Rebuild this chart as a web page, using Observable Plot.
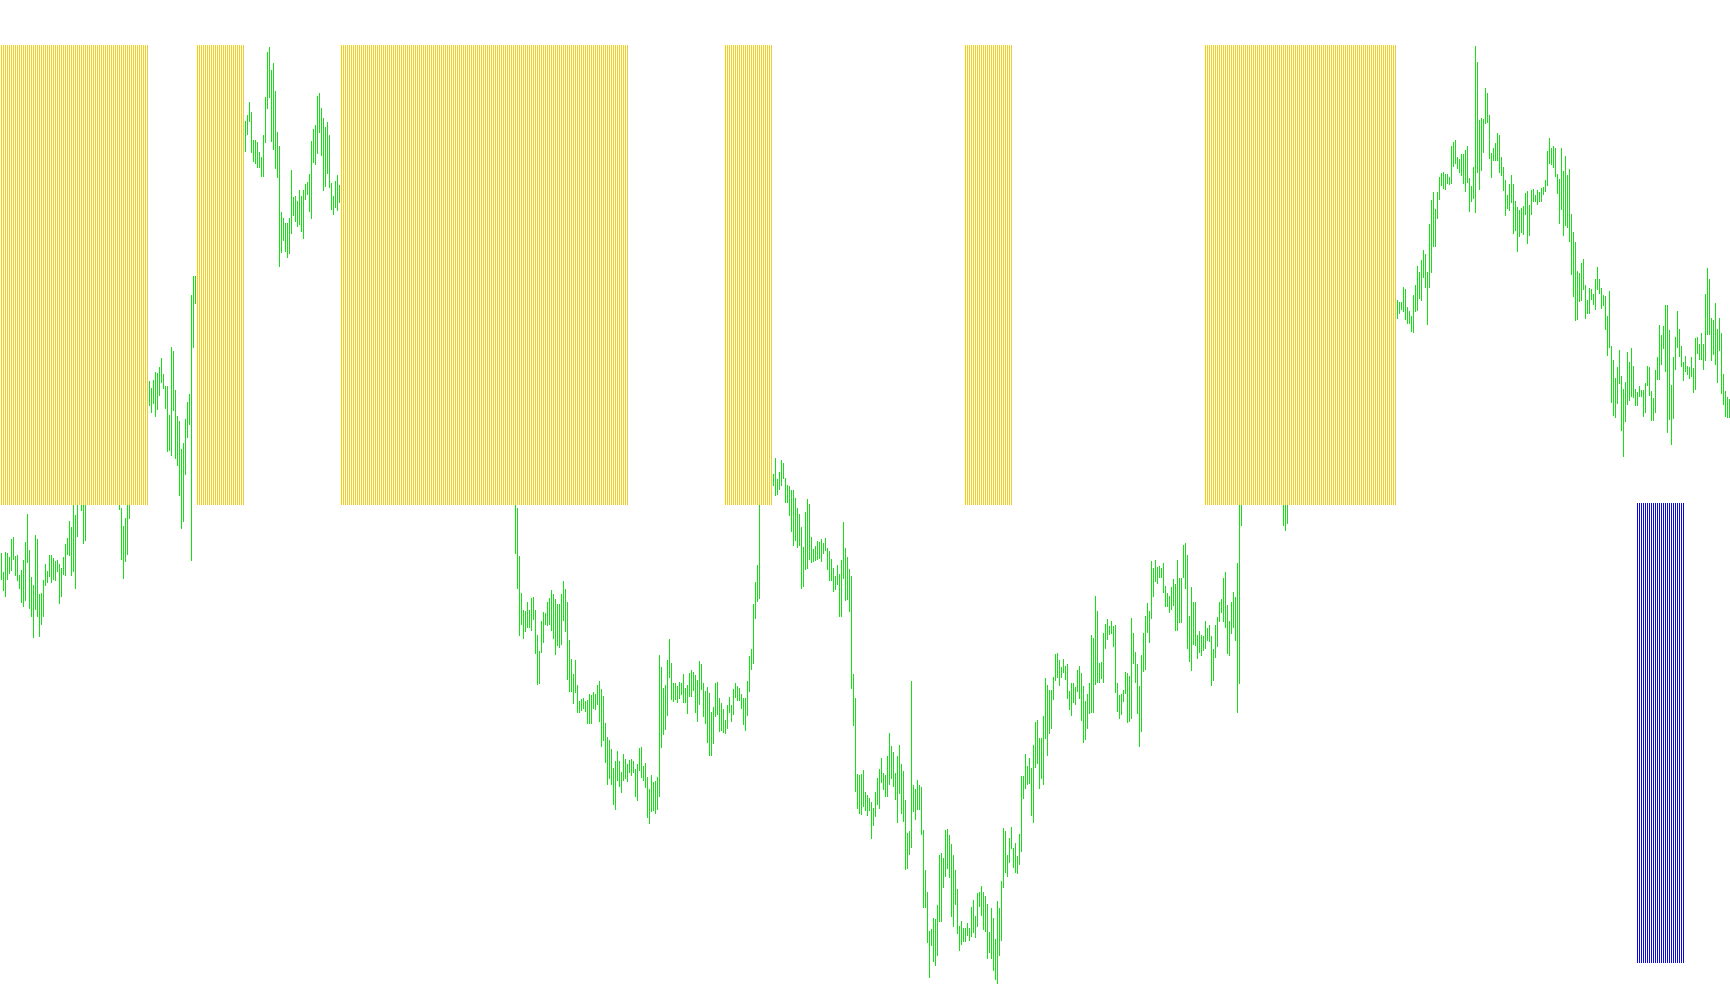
<!DOCTYPE html>
<html><head><meta charset="utf-8">
<script src="https://cdn.jsdelivr.net/npm/d3@7"></script>
<script src="https://cdn.jsdelivr.net/npm/@observablehq/plot@0.6"></script>
<style>html,body{margin:0;padding:0;background:#fff;overflow:hidden}svg{display:block;max-width:none!important;width:1730px!important;height:1005px!important}</style>
</head><body><div id="chart"></div>
<script>
// Each run: [top, bottom] readings of successive range bars, starting at a bar number.
const runA=[[553,579],[572,590],[552,596],[553,579],[557,573],[539,570],[537,559],[556,575],[555,580],[575,588],[570,602],[560,606],[542,600],[514,562],[550,608],[577,616],[585,637],[535,609],[539,616],[594,636],[593,624],[580,616],[564,585],[571,582],[555,576],[555,582],[558,579],[561,580],[560,571],[564,603],[568,596],[557,574],[544,575],[538,554],[521,555],[527,575],[500,571],[515,588],[500,536]];
const runB=[[500,510],[500,543],[500,540]];
const runC=[[500,509],[508,559],[526,578],[518,561],[500,554],[500,518]];
const runD=[[381,405],[388,412],[380,403],[372,416],[373,409],[367,395],[358,382],[374,388],[386,408],[386,451],[415,450],[347,455],[351,410],[390,458],[416,465],[421,495],[449,528],[443,521],[419,474],[402,437],[394,424],[295,560],[276,347],[276,303]];
const runE=[[121,151],[115,134],[102,121],[112,152],[140,161],[140,163],[142,167],[152,167],[157,176],[135,176],[97,142],[52,108],[47,97],[70,141],[63,149],[91,168],[132,177],[146,266],[212,252],[218,240],[223,251],[223,257],[218,253],[170,233],[197,215],[196,221],[201,226],[190,224],[196,231],[190,238],[184,199],[182,194],[174,211],[141,218],[129,162],[125,164],[96,153],[93,132],[108,155],[118,190],[127,186],[122,173],[135,187],[183,209],[196,214],[181,207],[175,210],[185,202]];
const runF=[[500,553],[508,588],[556,635],[593,624],[610,638],[611,631],[602,627],[610,627],[598,630],[597,619],[610,653],[635,684],[651,683],[621,652],[612,642],[613,624],[602,625],[598,624],[590,630],[594,638],[599,654],[604,645],[604,647],[594,644],[581,620],[589,631],[602,679],[640,691],[659,691],[674,703],[660,692],[685,712],[701,712],[699,710],[698,708],[701,711],[700,723],[694,723],[695,723],[692,708],[694,709],[685,704],[681,721],[689,746],[696,740],[723,762],[737,784],[740,778],[749,784],[768,804],[761,809],[751,780],[761,786],[772,792],[754,780],[759,778],[764,781],[760,772],[759,775],[761,772],[769,796],[764,800],[748,770],[747,777],[766,780],[763,787],[777,817],[789,823],[775,811],[782,810],[781,813],[777,809],[655,796],[667,747],[688,734],[685,729],[660,715],[639,677],[663,699],[683,701],[683,699],[686,702],[682,698],[683,694],[674,702],[688,702],[685,713],[673,696],[670,696],[672,690],[675,712],[680,721],[661,704],[664,689],[683,716],[691,723],[687,742],[693,755],[712,755],[707,743],[683,716],[682,714],[698,731],[703,730],[709,732],[720,733],[705,728],[697,712],[705,721],[689,714],[683,697],[686,700],[688,700],[694,708],[698,724],[698,730],[681,715],[656,691],[649,669],[604,663],[582,618],[565,601],[500,598]];
const runG=[[474,485],[458,495],[479,494],[472,489],[460,485],[463,478],[478,502],[485,502],[486,515],[490,531],[490,545],[498,540],[508,547],[514,545],[527,588],[547,586],[512,569],[499,568],[504,559],[537,562],[549,561],[546,560],[541,559],[542,558],[539,561],[543,553],[538,550],[548,569],[551,580],[559,580],[568,591],[576,589],[565,584],[574,616],[560,616],[522,578],[548,600],[557,599],[569,611],[576,688],[674,725],[698,791],[774,808],[775,813],[774,814],[770,806],[792,810],[795,815],[798,810],[802,838],[808,825],[792,816],[778,804],[769,808],[758,782],[773,789],[775,796],[756,796],[733,784],[746,778],[752,786],[773,799],[756,822],[745,793],[764,813],[771,821],[800,869],[833,868],[831,854],[681,847],[785,811],[789,819],[780,809],[785,809],[787,834],[830,907],[870,907],[892,942],[931,977],[929,945],[918,961],[919,965],[905,955],[855,921],[853,921],[858,887],[830,876],[829,868],[835,877],[844,916],[855,926],[870,904],[889,933],[926,950],[921,944],[928,941],[928,941],[923,935],[928,940],[907,936],[900,932],[916,937],[893,926],[892,906],[886,915],[892,929],[896,931],[904,958],[932,952],[908,958],[918,970],[939,979],[901,983],[908,955],[881,940],[828,887],[831,872],[855,876],[838,862],[827,848],[848,867],[843,872],[856,873],[834,864]];
const runH=[[776,851],[776,798],[754,788],[766,784],[758,783],[768,815],[745,822],[722,767],[720,763],[738,788],[738,778],[716,784],[678,738],[685,755],[690,733],[690,728],[677,699],[654,680],[653,677],[660,685],[667,677],[659,672],[666,679],[664,698],[691,709],[683,715],[683,702],[687,704],[670,691],[666,698],[673,720],[686,742],[701,739],[694,728],[683,713],[635,712],[638,712],[596,684],[611,682],[663,682],[662,678],[633,682],[624,648],[619,639],[626,634],[621,633],[626,646],[625,692],[683,711],[695,718],[694,714],[690,701],[672,693],[673,722],[676,721],[618,718],[633,663],[652,682],[664,713],[686,746],[655,731],[633,671],[616,669],[603,632],[611,642],[561,618],[568,596],[560,581],[567,583],[566,577],[568,577],[563,592],[586,606],[593,606],[596,612],[587,609],[579,605],[584,630],[560,630],[578,622],[578,622],[545,577],[543,588],[555,648],[616,661],[587,670],[602,644],[602,645],[635,658],[631,652],[635,655],[636,650],[621,648],[628,640],[625,641],[636,685],[649,680],[625,657],[617,646],[602,621],[599,612],[578,621],[572,627],[605,653],[621,655],[602,633],[592,627],[597,640],[563,712],[500,683],[500,525]];
const runI=[[500,525],[500,530],[500,523]];
const runJ=[[300,318],[302,313],[302,309],[287,311],[289,319],[307,323],[311,323],[316,331],[295,332],[285,311],[266,310],[272,298],[260,300],[250,277],[254,287],[272,324],[224,287],[200,272],[192,246],[209,246],[192,218],[177,199],[173,185],[172,188],[174,189],[174,183],[177,184],[146,183],[142,166],[140,163],[157,168],[159,172],[154,175],[154,183],[150,191],[146,182],[178,211],[186,201],[167,198],[46,212],[62,172],[120,189],[118,170],[119,152],[88,123],[93,122],[115,158],[153,177],[148,160],[143,160],[133,160],[135,172],[157,175],[167,190],[180,215],[195,208],[184,210],[175,202],[184,233],[201,230],[207,251],[210,236],[208,232],[206,234],[193,214],[191,243],[205,235],[190,214],[189,201],[195,201],[190,204],[192,201],[188,201],[187,194],[180,191],[151,185],[138,163],[148,164],[146,167],[148,176],[174,193],[179,223],[148,209],[171,235],[156,225],[175,227],[169,241],[214,274],[232,296],[242,320],[271,319],[273,301],[263,300],[259,289],[285,318],[300,313],[288,313],[289,299],[294,304],[279,309],[267,289],[279,293],[288,308],[295,305],[296,329],[316,355],[291,347],[346,402],[360,415],[378,417],[367,403],[350,383],[376,430],[389,456],[382,421],[352,404],[362,400],[348,396],[366,397],[389,405],[392,405],[386,396],[390,396],[390,416],[383,412],[366,385],[367,395],[391,420],[398,420],[370,412],[357,379],[325,379],[335,364],[326,348],[305,371],[305,432],[330,419],[385,444],[357,418],[337,369],[311,347],[329,356],[346,366],[362,380],[356,371],[366,374],[367,378],[357,376],[368,392],[338,389],[337,353],[344,359],[333,359],[344,369],[294,360],[268,334],[279,334],[318,360],[320,354],[303,364],[329,382],[318,350],[333,393],[374,404],[391,416],[397,417],[399,417]];
const runStarts=[0,40,59,74,122,257,386,510,641,698];
const runs=[runA,runB,runC,runD,runE,runF,runG,runH,runI,runJ];

const yellowSpans=[[0,73],[98,121],[170,313],[362,385],[482,505],[602,697]];
const yellowLevels=[45,505];
const blueSpan=[818,841];
const blueLevels=[503,963];
const barCount=865;

const bars=runs.flatMap((r,k)=>r.map(([top,bottom],j)=>({n:runStarts[k]+j,top,bottom})));
const yellowBars=yellowSpans.flatMap(([a,b])=>d3.range(a,b+1));
const blueBars=d3.range(blueSpan[0],blueSpan[1]+1);

const chart=Plot.plot({
  width:1730,height:1005,margin:0,
  style:{background:"#fff"},
  x:{domain:[0,barCount-1],range:[1,1729],axis:null},
  y:{domain:[0,1005],range:[0,1005],axis:null},
  marks:[
    Plot.ruleX(bars,{x:"n",y1:"top",y2:d=>d.bottom+1,stroke:"#14e014",strokeWidth:1,shapeRendering:"crispEdges"}),
    Plot.ruleX(yellowBars,{x:d=>d,y1:yellowLevels[0],y2:yellowLevels[1],stroke:"#f5cf14",strokeWidth:1,shapeRendering:"crispEdges"}),
    Plot.ruleX(blueBars,{x:d=>d,y1:blueLevels[0],y2:blueLevels[1],stroke:"#0808e8",strokeWidth:1,shapeRendering:"crispEdges"})
  ]
});
document.getElementById("chart").appendChild(chart);
</script></body></html>
